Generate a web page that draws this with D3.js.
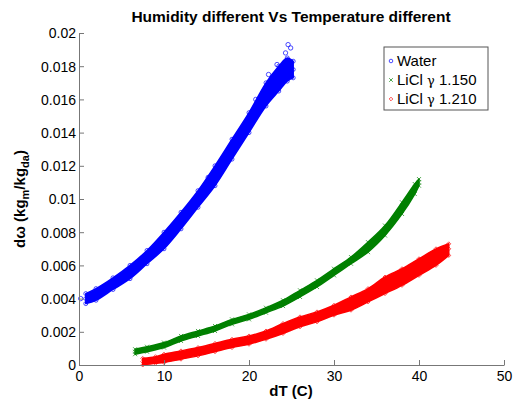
<!DOCTYPE html>
<html>
<head>
<meta charset="utf-8">
<script src="https://cdn.jsdelivr.net/npm/d3@7"></script>
<style>
  body { margin: 0; background: #fff; }
  text { font-family: "Liberation Sans", Arial, sans-serif; }
</style>
</head>
<body>
<div id="chart"></div>
<script>
// Valores: bordes inferior/superior y centro de cada banda de puntos
const waterDT  = [0.8, 2, 4, 6, 8, 10, 12, 14, 16, 18, 20, 22, 23.5, 24.5, 25.2];
const waterMid = [0.0040, 0.00425, 0.0049, 0.0056, 0.0065, 0.0075, 0.0087, 0.0100, 0.0114, 0.0130, 0.0146, 0.0163, 0.0172, 0.0177, 0.0178];
const waterLo  = [0.0037, 0.0039, 0.00455, 0.0052, 0.0061, 0.0070, 0.0082, 0.0095, 0.0108, 0.0124, 0.0140, 0.0156, 0.0165, 0.0171, 0.0173];
const waterHi  = [0.0043, 0.0046, 0.00525, 0.0060, 0.0069, 0.0080, 0.0092, 0.0105, 0.0120, 0.0136, 0.0152, 0.0170, 0.0180, 0.0185, 0.0183];
const waterOutX = [0.2, 20.8, 22.3, 23.3, 24.3, 24.6, 24.9, 15.2, 9.5];
const waterOutY = [0.0040, 0.0160, 0.0175, 0.0181, 0.0188, 0.0193, 0.0191, 0.0113, 0.0073];

const g150DT  = [6.6, 8, 10, 12, 14, 16, 18, 20, 22, 24, 26, 28, 30, 32, 34, 36, 38, 39.5, 40];
const g150Mid = [0.0008, 0.00095, 0.0012, 0.0016, 0.0019, 0.0022, 0.0026, 0.0029, 0.0033, 0.0037, 0.0043, 0.0049, 0.0056, 0.0063, 0.0071, 0.0081, 0.0094, 0.0106, 0.0110];
const g150Lo  = [0.00065, 0.0008, 0.00105, 0.00145, 0.00175, 0.00205, 0.00245, 0.00275, 0.00315, 0.00355, 0.0041, 0.0047, 0.0054, 0.0061, 0.0068, 0.0078, 0.0091, 0.0103, 0.0108];
const g150Hi  = [0.00095, 0.0011, 0.00135, 0.00175, 0.00205, 0.00235, 0.00275, 0.00305, 0.00345, 0.0039, 0.0045, 0.0051, 0.0058, 0.0065, 0.0074, 0.0084, 0.0098, 0.0109, 0.0112];

const g210DT  = [7.5, 9, 10, 12, 14, 16, 18, 20, 22, 24, 26, 28, 30, 32, 34, 36, 38, 40, 42, 43.5];
const g210Mid = [0.0002, 0.0003, 0.0004, 0.0006, 0.0008, 0.00102, 0.0013, 0.0015, 0.0018, 0.0022, 0.0026, 0.0029, 0.0033, 0.0037, 0.0042, 0.0048, 0.0053, 0.0059, 0.0065, 0.0070];
const g210Lo  = [0.0000, 0.0001, 0.00015, 0.00035, 0.00055, 0.0008, 0.00105, 0.00125, 0.00155, 0.0019, 0.0023, 0.0026, 0.0030, 0.0033, 0.0038, 0.0043, 0.0048, 0.0054, 0.0060, 0.0066];
const g210Hi  = [0.0004, 0.0005, 0.00065, 0.00085, 0.00105, 0.0013, 0.00155, 0.00175, 0.00205, 0.0025, 0.0029, 0.0032, 0.0036, 0.0041, 0.0046, 0.0053, 0.0058, 0.0064, 0.0070, 0.0073];

const seriesNames = ["Water", "LiCl \u03b3 1.150", "LiCl \u03b3 1.210"];
const xTicks = [0, 10, 20, 30, 40, 50];
const yTicks = [0, 0.002, 0.004, 0.006, 0.008, 0.01, 0.012, 0.014, 0.016, 0.018, 0.02];

const W = 519, H = 401;
const svg = d3.select("#chart").append("svg").attr("width", W).attr("height", H);

const x = d3.scaleLinear().domain([0, 50]).range([79, 504]);
const y = d3.scaleLinear().domain([0, 0.02]).range([365, 33]);

// Series: color, marker type
const series = [
  { dT: waterDT, mid: waterMid, lo: waterLo, hi: waterHi, ox: waterOutX, oy: waterOutY, color: "#0000ff", mark: "o" },
  { dT: g150DT, mid: g150Mid, lo: g150Lo, hi: g150Hi, ox: [], oy: [], color: "#008000", mark: "x" },
  { dT: g210DT, mid: g210Mid, lo: g210Lo, hi: g210Hi, ox: [], oy: [], color: "#ff0000", mark: "d" }
];

function drawMark(g, mark, cx, cy, color, s) {
  if (mark === "o") {
    g.append("circle").attr("cx", cx).attr("cy", cy).attr("r", s)
      .attr("fill", "none").attr("stroke", color).attr("stroke-width", 0.7);
  } else if (mark === "x") {
    g.append("path")
      .attr("d", `M${cx - s},${cy - s}L${cx + s},${cy + s}M${cx - s},${cy + s}L${cx + s},${cy - s}`)
      .attr("stroke", color).attr("stroke-width", 0.7);
  } else {
    g.append("path")
      .attr("d", `M${cx},${cy - s}L${cx + s},${cy}L${cx},${cy + s}L${cx - s},${cy}Z`)
      .attr("fill", "none").attr("stroke", color).attr("stroke-width", 0.7);
  }
}

const plot = svg.append("g");
series.forEach(s => {
  const pts = s.dT.map((d, i) => ({ t: d, lo: s.lo[i], hi: s.hi[i], mid: s.mid[i] }));
  const area = d3.area()
    .x(d => x(d.t)).y0(d => y(d.lo)).y1(d => y(d.hi))
    .curve(d3.curveCatmullRom);
  plot.append("path").datum(pts).attr("d", area)
    .attr("fill", s.color).attr("stroke", s.color).attr("stroke-width", 1.5)
    .attr("stroke-linejoin", "round");
  const mg = plot.append("g");
  pts.forEach(p => {
    drawMark(mg, s.mark, x(p.t), y(p.lo), s.color, 2);
    drawMark(mg, s.mark, x(p.t), y(p.hi), s.color, 2);
    drawMark(mg, s.mark, x(p.t), y(p.mid), s.color, 2);
  });
  s.ox.forEach((d, i) => drawMark(mg, s.mark, x(d), y(s.oy[i]), s.color, 2.2));
});

// Ejes (ticks hacia dentro, estilo MATLAB)
const axisColor = "#777";
const gx = svg.append("g").attr("transform", `translate(0,${y(0)})`)
  .call(d3.axisBottom(x).tickValues(xTicks).tickSizeInner(-5).tickSizeOuter(0).tickPadding(6));
const gy = svg.append("g").attr("transform", `translate(${x(0)},0)`)
  .call(d3.axisLeft(y).tickValues(yTicks).tickSizeInner(-5).tickSizeOuter(0).tickPadding(3)
    .tickFormat(d => d === 0 ? "0" : d3.format("~g")(d)));
[gx, gy].forEach(g => {
  g.select(".domain").attr("stroke", axisColor);
  g.selectAll(".tick line").attr("stroke", axisColor);
  g.selectAll(".tick text").attr("fill", "#000").style("font-size", "14px")
    .style("font-family", "'Liberation Sans', Arial, sans-serif");
});
gy.selectAll(".tick text").attr("dy", "0.35em");

// Titulo y etiquetas
svg.append("text").attr("x", 291).attr("y", 22).attr("text-anchor", "middle")
  .style("font-size", "15.5px").style("font-weight", "bold").text("Humidity different Vs Temperature different");
svg.append("text").attr("x", 291).attr("y", 396).attr("text-anchor", "middle")
  .style("font-size", "15px").style("font-weight", "bold").text("dT (C)");

const yl = svg.append("text").attr("transform", "translate(25,199) rotate(-90)")
  .attr("text-anchor", "middle").style("font-size", "15px").style("font-weight", "bold");
yl.append("tspan").text("d\u03c9 (kg");
yl.append("tspan").attr("dy", 4).style("font-size", "11px").text("m");
yl.append("tspan").attr("dy", -4).text("/kg");
yl.append("tspan").attr("dy", 4).style("font-size", "11px").text("da");
yl.append("tspan").attr("dy", -4).text(")");

// Leyenda
const lg = svg.append("g");
lg.append("rect").attr("x", 384).attr("y", 47).attr("width", 104).attr("height", 63)
  .attr("fill", "#fff").attr("stroke", "#555").attr("stroke-width", 1);
seriesNames.forEach((name, i) => {
  const cy = 61 + i * 19;
  drawMark(lg, series[i].mark, 391, cy, series[i].color, 1.8);
  const t = lg.append("text").attr("x", 397).attr("y", cy + 5).style("font-size", "15px");
  if (i === 0) {
    t.text(name);
  } else {
    const parts = name.split("\u03b3");
    t.append("tspan").text(parts[0]);
    t.append("tspan").style("font-family", "'DejaVu Serif', serif").style("font-size", "13px").text("\u03b3");
    t.append("tspan").text(parts[1]);
  }
});
</script>
</body>
</html>
